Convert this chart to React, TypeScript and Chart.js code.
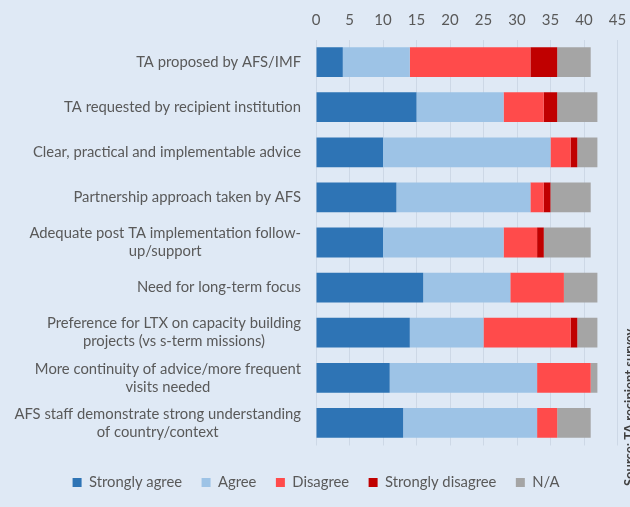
import React, { useEffect, useRef } from "react";
import { Chart, registerables } from "chart.js";

Chart.register(...registerables);

const categories: string[][] = [
  ["TA proposed by AFS/IMF"],
  ["TA requested by recipient institution"],
  ["Clear, practical and implementable advice"],
  ["Partnership approach taken by AFS"],
  ["Adequate post TA implementation follow-", "up/support"],
  ["Need for long-term focus"],
  ["Preference for LTX on capacity building", "projects (vs s-term missions)"],
  ["More continuity of advice/more frequent", "visits needed"],
  ["AFS staff demonstrate strong understanding", "of country/context"],
];

const stronglyAgree = [4, 15, 10, 12, 10, 16, 14, 11, 13];
const agree = [10, 13, 25, 20, 18, 13, 11, 22, 20];
const disagree = [18, 6, 3, 2, 5, 8, 13, 8, 3];
const stronglyDisagree = [4, 2, 1, 1, 1, 0, 1, 0, 0];
const notApplicable = [5, 6, 3, 6, 7, 5, 3, 1, 5];

const xTicks = [0, 5, 10, 15, 20, 25, 30, 35, 40, 45];
const sourceNote = "Source: TA recipient survey";

const FONT = "Lato, 'Open Sans', sans-serif";
const TEXT = "#595959";
const BG = "#dfe9f5";

const labelPlugin = {
  id: "customLabels",
  beforeDraw(chart: any) {
    const ctx = chart.ctx;
    ctx.save();
    ctx.fillStyle = BG;
    ctx.fillRect(0, 0, chart.width, chart.height);
    ctx.restore();
  },
  afterDraw(chart: any) {
    const ctx = chart.ctx;
    const yScale = chart.scales.y;
    ctx.save();
    ctx.font = `14.8px ${FONT}`;
    ctx.fillStyle = TEXT;
    ctx.textBaseline = "middle";
    ctx.textAlign = "center";
    const rightEdge = chart.chartArea.left - 15;
    const lh = 18;
    categories.forEach((lines, i) => {
      const yc = yScale.getPixelForValue(i);
      const w = Math.max(...lines.map((l) => ctx.measureText(l).width));
      const cx = rightEdge - w / 2;
      const y0 = yc - ((lines.length - 1) * lh) / 2;
      lines.forEach((l, j) => ctx.fillText(l, cx, y0 + j * lh));
    });
    // cropped source note on the right edge
    ctx.translate(634, 486);
    ctx.rotate(-Math.PI / 2);
    ctx.font = `bold 13px ${FONT}`;
    ctx.fillStyle = "#404040";
    ctx.textAlign = "left";
    ctx.textBaseline = "alphabetic";
    ctx.fillText(sourceNote, 0, 0);
    ctx.restore();
  },
};

export default function App() {
  const ref = useRef<HTMLCanvasElement | null>(null);
  useEffect(() => {
    if (!ref.current) return;
    const chart = new Chart(ref.current, {
      type: "bar",
      data: {
        labels: categories.map((c) => c.join(" ")),
        datasets: [
          { label: "Strongly agree", data: stronglyAgree, backgroundColor: "#2e74b5" },
          { label: "Agree", data: agree, backgroundColor: "#9dc3e6" },
          { label: "Disagree", data: disagree, backgroundColor: "#ff4b4b" },
          { label: "Strongly disagree", data: stronglyDisagree, backgroundColor: "#c00000" },
          { label: "N/A", data: notApplicable, backgroundColor: "#a5a5a5" },
        ].map((d) => ({ ...d, barPercentage: 0.66, categoryPercentage: 1 })),
      },
      options: {
        indexAxis: "y",
        animation: false,
        responsive: false,
        maintainAspectRatio: false,
        layout: { padding: { left: 14.5, right: 12.5, top: 1.5, bottom: 7 } },
        plugins: {
          legend: {
            position: "bottom",
            title: { display: true, text: "", font: { size: 1 }, padding: { top: 9, bottom: 0 } },
            labels: {
              boxWidth: 9,
              boxHeight: 9,
              padding: 19.5,
              color: TEXT,
              font: { family: FONT, size: 14.8 },
            },
          },
          tooltip: { enabled: false },
        },
        scales: {
          x: {
            position: "top",
            stacked: true,
            min: 0,
            max: 45,
            afterBuildTicks: (scale: any) => {
              scale.ticks = xTicks.map((v) => ({ value: v }));
            },
            afterFit: (scale: any) => {
              scale.paddingRight = 0;
              scale.paddingLeft = 0;
            },
            ticks: {
              color: TEXT,
              font: { family: FONT, size: 15 },
              padding: 10,
            },
            grid: { color: "#cdd8e6", drawTicks: false },
            border: { display: false },
          },
          y: {
            stacked: true,
            ticks: { display: false },
            grid: { display: false },
            border: { display: false },
            afterFit: (scale: any) => {
              scale.width = 301.5;
            },
          },
        },
      },
      plugins: [labelPlugin],
    });
    return () => chart.destroy();
  }, []);
  return (
    <div style={{ position: "fixed", left: 0, top: 0, width: 630, height: 507 }}>
      <canvas ref={ref} width={630} height={507} style={{ width: 630, height: 507, display: "block" }} />
    </div>
  );
}
